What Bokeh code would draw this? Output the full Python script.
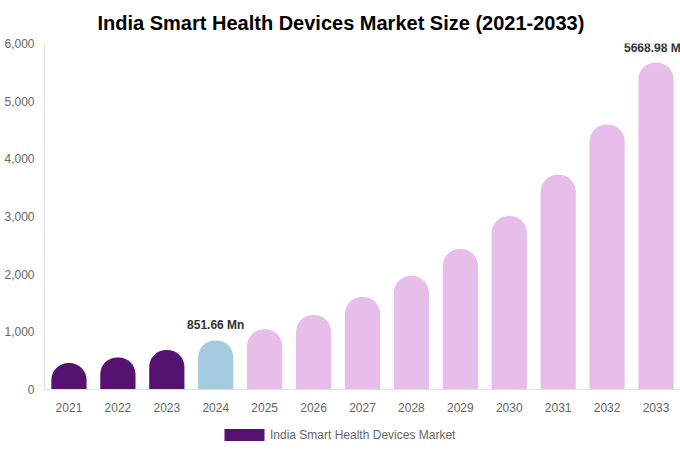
from bokeh.plotting import figure
from bokeh.layouts import column
from bokeh.models import ColumnDataSource, FactorRange, Range1d, Legend, LegendItem, NumeralTickFormatter, FixedTicker
from bokeh.core.properties import value
from bokeh.embed import file_html
from bokeh.resources import INLINE

years = ["2021", "2022", "2023", "2024", "2025", "2026", "2027",
         "2028", "2029", "2030", "2031", "2032", "2033"]
market_size = [458, 557, 684, 851.66, 1044, 1293, 1606,
               1971, 2436, 3010, 3724, 4594, 5668.98]
bar_colors = ["#55126f", "#55126f", "#55126f", "#a5cbdf"] + ["#e7bde9"] * 9
labeled_years = ["2024", "2033"]
series_name = "India Smart Health Devices Market"
title_text = "India Smart Health Devices Market Size (2021-2033)"
y_ticks = [0, 1000, 2000, 3000, 4000, 5000, 6000]

FONT = "Liberation Sans"

src = ColumnDataSource(dict(x=years, top=market_size, color=bar_colors))

p = figure(x_range=FactorRange(*years, range_padding=0), y_range=Range1d(0, 6000),
           width=680, height=415, output_backend="svg", toolbar_location=None,
           min_border_left=44, min_border_right=0, min_border_top=43, min_border_bottom=26,
           outline_line_color=None)

r = p.vbar(x="x", top="top", width=0.72, source=src, fill_color="color",
           line_color=None, border_radius=(17, 17, 0, 0))

lab_x = [y for y in years if y in labeled_years]
lab_v = [v for y, v in zip(years, market_size) if y in labeled_years]
lab_src = ColumnDataSource(dict(x=lab_x, y=lab_v, t=["%.2f Mn" % v for v in lab_v]))
p.text(x="x", y="y", text="t", source=lab_src, text_align="center", text_baseline="bottom",
       y_offset=-8, text_font=value(FONT), text_font_style="bold", text_font_size="12px",
       text_color="#333333")

p.title.text = title_text
p.title.align = "left"
p.title.offset = 53
p.title.standoff = 19
p.title.text_font = FONT
p.title.text_font_size = "20px"
p.title.text_font_style = "bold"
p.title.text_color = "#000000"

p.xgrid.grid_line_color = None
p.ygrid.grid_line_color = None

for ax in (p.xaxis[0], p.yaxis[0]):
    ax.axis_line_color = "#e0e0e0"
    ax.major_tick_line_color = None
    ax.minor_tick_line_color = None
    ax.major_tick_out = 0
    ax.major_tick_in = 0
    ax.minor_tick_out = 0
    ax.minor_tick_in = 0
    ax.major_label_text_font = FONT
    ax.major_label_text_font_size = "12px"
    ax.major_label_text_color = "#666666"

p.yaxis[0].major_label_standoff = 10
p.yaxis[0].ticker = FixedTicker(ticks=y_ticks)
p.yaxis[0].formatter = NumeralTickFormatter(format="0,0")
p.xaxis[0].major_label_standoff = 13

# legend strip below the chart; its renderer draws zero-width bars far outside the view
lf = figure(width=680, height=35, x_range=FactorRange(*years, range_padding=0),
            y_range=Range1d(-1e6, -1e6 + 1), output_backend="svg", toolbar_location=None,
            x_axis_type=None, y_axis_type=None, min_border=0, outline_line_color=None)
lf.xgrid.grid_line_color = None
lf.ygrid.grid_line_color = None
lr = lf.vbar(x="x", top="top", width=0, source=src, fill_color="color", line_color=None)
legend = Legend(items=[LegendItem(label=series_name, renderers=[lr], index=0)],
                location=(175, 8), padding=0, margin=0, border_line_alpha=0,
                background_fill_alpha=0, glyph_width=50, glyph_height=15,
                label_height=15, label_standoff=1, label_text_font=FONT,
                label_text_font_size="12px", label_text_color="#666666")
lf.add_layout(legend)

layout = column(p, lf, spacing=0)
open("out.html", "w").write(file_html(layout, INLINE))
